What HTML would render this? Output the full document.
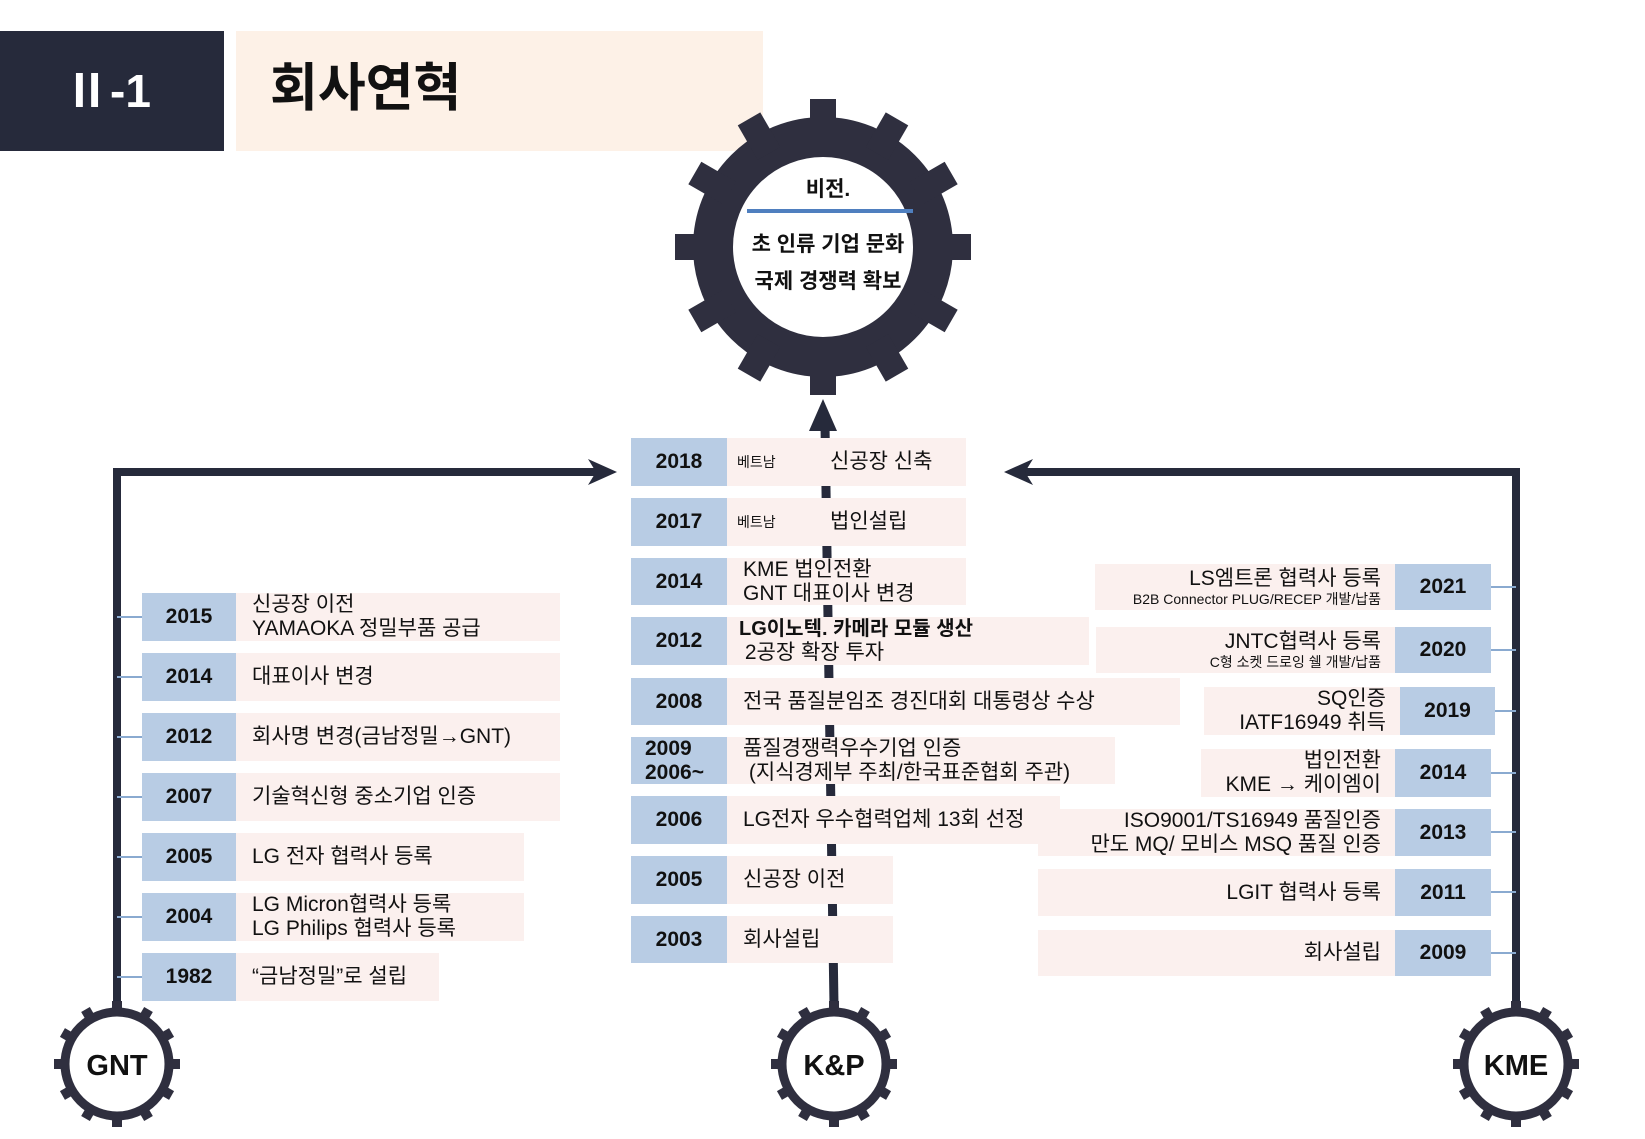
<!DOCTYPE html>
<html><head><meta charset="utf-8">
<style>
*{margin:0;padding:0;box-sizing:border-box}
body{width:1645px;height:1139px;background:#fff;position:relative;overflow:hidden;font-family:"Liberation Sans","Noto Sans CJK KR",sans-serif;color:#111}
.a{position:absolute}
.y{position:absolute;background:#b8cce4;font-weight:bold;font-size:21px;display:flex;align-items:center;justify-content:center;line-height:24px}
.t{position:absolute;background:#fbf0ee;font-size:21px;line-height:24px;display:flex;flex-direction:column;justify-content:center;white-space:nowrap}
.r{align-items:flex-end;padding-right:14px;text-align:right}
.l{padding-left:16px}
.s{font-size:14px;line-height:16px}
</style></head><body>
<div class="a" style="left:0;top:31px;width:224px;height:120px;background:#262a3b;color:#fff;font-weight:bold;font-size:46px;line-height:120px;padding-left:64px">Ⅱ-1</div>
<div class="a" style="left:236px;top:31px;width:527px;height:120px;background:#fdf1e7;font-weight:bold;font-size:52px;line-height:116px;padding-left:34px">회사연혁</div>

<svg class="a" style="left:0;top:0" width="1645" height="1139">
<defs>
<g id="gb">
<circle r="110" fill="none" stroke="#2f2f3f" stroke-width="40"/>
<g fill="#2f2f3f">
<rect x="-13" y="-148" width="26" height="40"/><rect x="-13" y="-148" width="26" height="40" transform="rotate(30)"/><rect x="-13" y="-148" width="26" height="40" transform="rotate(60)"/><rect x="-13" y="-148" width="26" height="40" transform="rotate(90)"/><rect x="-13" y="-148" width="26" height="40" transform="rotate(120)"/><rect x="-13" y="-148" width="26" height="40" transform="rotate(150)"/><rect x="-13" y="-148" width="26" height="40" transform="rotate(180)"/><rect x="-13" y="-148" width="26" height="40" transform="rotate(210)"/><rect x="-13" y="-148" width="26" height="40" transform="rotate(240)"/><rect x="-13" y="-148" width="26" height="40" transform="rotate(270)"/><rect x="-13" y="-148" width="26" height="40" transform="rotate(300)"/><rect x="-13" y="-148" width="26" height="40" transform="rotate(330)"/>
</g></g>
<g id="gs">
<circle r="52" fill="#fff" stroke="#2f2f3f" stroke-width="9"/>
<g fill="#2f2f3f">
<rect x="-5" y="-63" width="10" height="10"/><rect x="-5" y="-63" width="10" height="10" transform="rotate(30)"/><rect x="-5" y="-63" width="10" height="10" transform="rotate(60)"/><rect x="-5" y="-63" width="10" height="10" transform="rotate(90)"/><rect x="-5" y="-63" width="10" height="10" transform="rotate(120)"/><rect x="-5" y="-63" width="10" height="10" transform="rotate(150)"/><rect x="-5" y="-63" width="10" height="10" transform="rotate(180)"/><rect x="-5" y="-63" width="10" height="10" transform="rotate(210)"/><rect x="-5" y="-63" width="10" height="10" transform="rotate(240)"/><rect x="-5" y="-63" width="10" height="10" transform="rotate(270)"/><rect x="-5" y="-63" width="10" height="10" transform="rotate(300)"/><rect x="-5" y="-63" width="10" height="10" transform="rotate(330)"/>
</g></g>
</defs>
<use href="#gb" x="823" y="247"/>
<line x1="747" y1="211" x2="913" y2="211" stroke="#4f7fbf" stroke-width="4"/>
<line x1="834" y1="1005" x2="825" y2="425" stroke="#262a3b" stroke-width="9"/>
<polygon points="823,399 809,431 837,431" fill="#262a3b"/>
<polyline points="117,1005 117,472 605,472" fill="none" stroke="#262a3b" stroke-width="8"/>
<polygon points="617,472 588,459 596,472 588,485" fill="#262a3b"/>
<polyline points="1516,1005 1516,472 1025,472" fill="none" stroke="#262a3b" stroke-width="8"/>
<polygon points="1004,472 1033,459 1025,472 1033,485" fill="#262a3b"/>
<g stroke="#8aaad0" stroke-width="2">
<line x1="117" y1="617" x2="142" y2="617"/><line x1="117" y1="677" x2="142" y2="677"/><line x1="117" y1="737" x2="142" y2="737"/><line x1="117" y1="797" x2="142" y2="797"/><line x1="117" y1="857" x2="142" y2="857"/><line x1="117" y1="917" x2="142" y2="917"/><line x1="117" y1="977" x2="142" y2="977"/>
<line x1="1491" y1="587" x2="1516" y2="587"/><line x1="1491" y1="650" x2="1516" y2="650"/><line x1="1495" y1="711" x2="1516" y2="711"/><line x1="1491" y1="773" x2="1516" y2="773"/><line x1="1491" y1="832" x2="1516" y2="832"/><line x1="1491" y1="892" x2="1516" y2="892"/><line x1="1491" y1="953" x2="1516" y2="953"/>
</g>
<use href="#gs" x="117" y="1064"/>
<use href="#gs" x="834" y="1064"/>
<use href="#gs" x="1516" y="1064"/>
<g font-family="Liberation Sans, Noto Sans CJK KR, sans-serif" font-weight="bold" font-size="29" text-anchor="middle" fill="#111">
<text x="117" y="1075">GNT</text><text x="834" y="1075">K&amp;P</text><text x="1516" y="1075">KME</text>
</g>
<g font-family="Liberation Sans, Noto Sans CJK KR, sans-serif" font-weight="bold" font-size="21" text-anchor="middle" fill="#111">
<text x="828" y="196">비전.</text>
<text x="828" y="251">초 인류 기업 문화</text>
<text x="828" y="288">국제 경쟁력 확보</text>
</g>
</svg>

<div class="y" style="left:142px;top:593px;width:94px;height:48px">2015</div><div class="t l" style="left:236px;top:593px;width:324px;height:48px"><span>신공장 이전</span><span>YAMAOKA 정밀부품 공급</span></div>
<div class="y" style="left:142px;top:653px;width:94px;height:48px">2014</div><div class="t l" style="left:236px;top:653px;width:324px;height:48px">대표이사 변경</div>
<div class="y" style="left:142px;top:713px;width:94px;height:48px">2012</div><div class="t l" style="left:236px;top:713px;width:324px;height:48px">회사명 변경(금남정밀→GNT)</div>
<div class="y" style="left:142px;top:773px;width:94px;height:48px">2007</div><div class="t l" style="left:236px;top:773px;width:324px;height:48px">기술혁신형 중소기업 인증</div>
<div class="y" style="left:142px;top:833px;width:94px;height:48px">2005</div><div class="t l" style="left:236px;top:833px;width:288px;height:48px">LG 전자 협력사 등록</div>
<div class="y" style="left:142px;top:893px;width:94px;height:48px">2004</div><div class="t l" style="left:236px;top:893px;width:288px;height:48px"><span>LG Micron협력사 등록</span><span>LG Philips 협력사 등록</span></div>
<div class="y" style="left:142px;top:953px;width:94px;height:48px">1982</div><div class="t l" style="left:236px;top:953px;width:203px;height:48px">“금남정밀”로 설립</div>

<div class="y" style="left:631px;top:438px;width:96px;height:48px">2018</div><div class="t" style="left:727px;top:438px;width:239px;height:48px;flex-direction:row;align-items:center;justify-content:flex-start;padding-left:10px"><span class="s" style="width:93px">베트남</span>신공장 신축</div>
<div class="y" style="left:631px;top:498px;width:96px;height:48px">2017</div><div class="t" style="left:727px;top:498px;width:239px;height:48px;flex-direction:row;align-items:center;justify-content:flex-start;padding-left:10px"><span class="s" style="width:93px">베트남</span>법인설립</div>
<div class="y" style="left:631px;top:558px;width:96px;height:47px">2014</div><div class="t l" style="left:727px;top:558px;width:239px;height:47px"><span>KME 법인전환</span><span>GNT 대표이사 변경</span></div>
<div class="y" style="left:631px;top:617px;width:96px;height:48px">2012</div><div class="t" style="left:727px;top:617px;width:362px;height:48px;padding-left:12px"><span style="font-weight:bold;font-size:20px">LG이노텍. 카메라 모듈 생산</span><span>&nbsp;2공장 확장 투자</span></div>
<div class="y" style="left:631px;top:678px;width:96px;height:47px">2008</div><div class="t l" style="left:727px;top:678px;width:453px;height:47px">전국 품질분임조 경진대회 대통령상 수상</div>
<div class="y" style="left:631px;top:737px;width:96px;height:47px;flex-direction:column;align-items:flex-start;padding-left:14px"><span>2009</span><span>2006~</span></div><div class="t l" style="left:727px;top:737px;width:388px;height:47px"><span>품질경쟁력우수기업 인증</span><span>&nbsp;(지식경제부 주최/한국표준협회 주관)</span></div>
<div class="y" style="left:631px;top:796px;width:96px;height:48px">2006</div><div class="t l" style="left:727px;top:796px;width:333px;height:48px">LG전자 우수협력업체 13회 선정</div>
<div class="y" style="left:631px;top:856px;width:96px;height:48px">2005</div><div class="t l" style="left:727px;top:856px;width:166px;height:48px">신공장 이전</div>
<div class="y" style="left:631px;top:916px;width:96px;height:47px">2003</div><div class="t l" style="left:727px;top:916px;width:166px;height:47px">회사설립</div>

<div class="t r" style="left:1095px;top:564px;width:300px;height:46px"><span>LS엠트론 협력사 등록</span><span class="s">B2B Connector PLUG/RECEP 개발/납품</span></div><div class="y" style="left:1395px;top:564px;width:96px;height:46px">2021</div>
<div class="t r" style="left:1096px;top:627px;width:299px;height:46px"><span>JNTC협력사 등록</span><span class="s">C형 소켓 드로잉 쉘 개발/납품</span></div><div class="y" style="left:1395px;top:627px;width:96px;height:46px">2020</div>
<div class="t r" style="left:1204px;top:687px;width:196px;height:48px"><span>SQ인증</span><span>IATF16949 취득</span></div><div class="y" style="left:1400px;top:687px;width:95px;height:48px">2019</div>
<div class="t r" style="left:1201px;top:749px;width:194px;height:48px"><span>법인전환</span><span>KME → 케이엠이</span></div><div class="y" style="left:1395px;top:749px;width:96px;height:48px">2014</div>
<div class="t r" style="left:1038px;top:809px;width:357px;height:47px"><span>ISO9001/TS16949 품질인증</span><span>만도 MQ/ 모비스 MSQ 품질 인증</span></div><div class="y" style="left:1395px;top:809px;width:96px;height:47px">2013</div>
<div class="t r" style="left:1038px;top:869px;width:357px;height:47px">LGIT 협력사 등록</div><div class="y" style="left:1395px;top:869px;width:96px;height:47px">2011</div>
<div class="t r" style="left:1038px;top:930px;width:357px;height:46px">회사설립</div><div class="y" style="left:1395px;top:930px;width:96px;height:46px">2009</div>
</body></html>
